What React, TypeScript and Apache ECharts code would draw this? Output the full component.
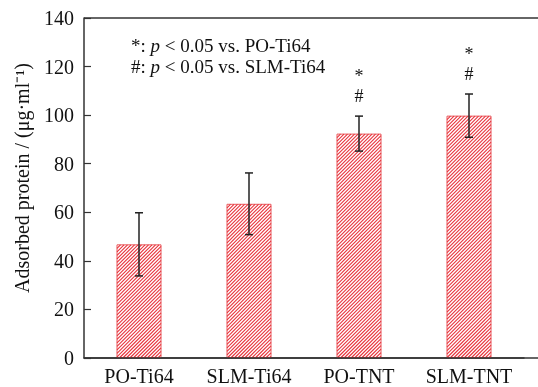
import React, { useEffect, useRef } from "react";
import * as echarts from "echarts";

const categories = ["PO-Ti64", "SLM-Ti64", "PO-TNT", "SLM-TNT"];
const means = [46.8, 63.5, 92.4, 99.8];
const errors = [13.0, 12.7, 7.2, 8.9];
const significance = ["", "", "*\n#", "*\n#"];
const yTicks = { min: 0, max: 140, interval: 20 };

const FONT = '"Liberation Serif", "Times New Roman", serif';
const BAR_WIDTH = 45;
const HATCH_STEP = 3.5;

export default function App() {
  const ref = useRef<HTMLDivElement>(null);
  useEffect(() => {
    if (!ref.current) return;
    const chart = echarts.init(ref.current, undefined, { renderer: "svg" });
    const hatchData = categories.map((_, i) => [i, means[i]]);
    const errData = categories.map((_, i) => [i, means[i] - errors[i], means[i] + errors[i]]);
    chart.setOption({
      animation: false,
      grid: { left: 84, right: 14, top: 18, bottom: 29 },
      xAxis: {
        type: "category",
        data: categories,
        axisLine: { show: true, lineStyle: { color: "#333", width: 1.5 } },
        axisTick: { show: false },
        axisLabel: { interval: 0, color: "#111", fontFamily: FONT, fontSize: 20, margin: 8 },
      },
      yAxis: {
        type: "value",
        min: yTicks.min,
        max: yTicks.max,
        interval: yTicks.interval,
        name: "Adsorbed protein / (μg·ml⁻¹)",
        nameLocation: "middle",
        nameGap: 52,
        nameTextStyle: { color: "#111", fontFamily: FONT, fontSize: 20, padding: [0, 0, 0, 20] },
        splitLine: { show: false },
        axisLine: { show: true, lineStyle: { color: "#333", width: 1.5 } },
        axisTick: { show: true, inside: true, length: 7, lineStyle: { color: "#333", width: 1.2 } },
        axisLabel: { color: "#111", fontFamily: FONT, fontSize: 20, margin: 10 },
      },
      graphic: [
        { type: "line", shape: { x1: 84, y1: 18, x2: 538, y2: 18 }, style: { stroke: "#333", lineWidth: 1.5 }, z: 10 },
        { type: "line", shape: { x1: 84, y1: 358, x2: 538, y2: 358 }, style: { stroke: "#333", lineWidth: 1.5 }, z: 10 },
        {
          type: "text",
          left: 131,
          top: 35,
          style: {
            text: "*: {i|p} < 0.05 vs. PO-Ti64\n#: {i|p} < 0.05 vs. SLM-Ti64",
            font: `19px ${FONT}`,
            fill: "#111",
            lineHeight: 21,
            rich: { i: { fontStyle: "italic", fontFamily: FONT, fontSize: 19, fill: "#111" } },
          },
        },
      ],
      series: [
        {
          type: "bar",
          data: means,
          barWidth: BAR_WIDTH,
          itemStyle: { color: "#ffffff", borderColor: "#e8595c", borderWidth: 1 },
        },
        {
          type: "custom",
          data: hatchData,
          z: 3,
          silent: true,
          renderItem: (params: any, api: any) => {
            const top = api.coord([api.value(0), api.value(1)]);
            const base = api.coord([api.value(0), 0]);
            const x0 = top[0] - BAR_WIDTH / 2 + 0.5;
            const x1 = top[0] + BAR_WIDTH / 2 - 0.5;
            const y0 = top[1] + 0.5;
            const y1 = base[1] - 0.5;
            const lines: any[] = [];
            for (let c = x0 + y0 + HATCH_STEP; c < x1 + y1; c += HATCH_STEP) {
              const xa = Math.max(x0, c - y1);
              const xb = Math.min(x1, c - y0);
              if (xb <= xa) continue;
              lines.push({
                type: "line",
                shape: { x1: xa, y1: c - xa, x2: xb, y2: c - xb },
                style: { stroke: "#e8313a", lineWidth: 1.1 },
              });
            }
            return { type: "group", children: lines };
          },
        },
        {
          type: "custom",
          data: errData,
          z: 5,
          renderItem: (params: any, api: any) => {
            const i = api.value(0);
            const lo = api.coord([i, api.value(1)]);
            const hi = api.coord([i, api.value(2)]);
            const hw = 4;
            const st = { stroke: "#222", lineWidth: 1.5 };
            const children: any[] = [
              { type: "line", shape: { x1: lo[0], y1: lo[1], x2: hi[0], y2: hi[1] }, style: st },
              { type: "line", shape: { x1: hi[0] - hw, y1: hi[1], x2: hi[0] + hw, y2: hi[1] }, style: st },
              { type: "line", shape: { x1: lo[0] - hw, y1: lo[1], x2: lo[0] + hw, y2: lo[1] }, style: st },
            ];
            const sig = significance[params.dataIndex];
            if (sig) {
              const [star, hash] = sig.split("\n");
              children.push({
                type: "text",
                style: { text: star, x: hi[0], y: hi[1] - 40, align: "center", verticalAlign: "middle", font: `18px ${FONT}`, fill: "#111" },
              });
              children.push({
                type: "text",
                style: { text: hash, x: hi[0], y: hi[1] - 20, align: "center", verticalAlign: "middle", font: `18px ${FONT}`, fill: "#111" },
              });
            }
            return { type: "group", children };
          },
        },
      ],
    });
    return () => chart.dispose();
  }, []);
  return <div ref={ref} style={{ position: "fixed", left: 0, top: 0, width: 538, height: 387 }} />;
}
